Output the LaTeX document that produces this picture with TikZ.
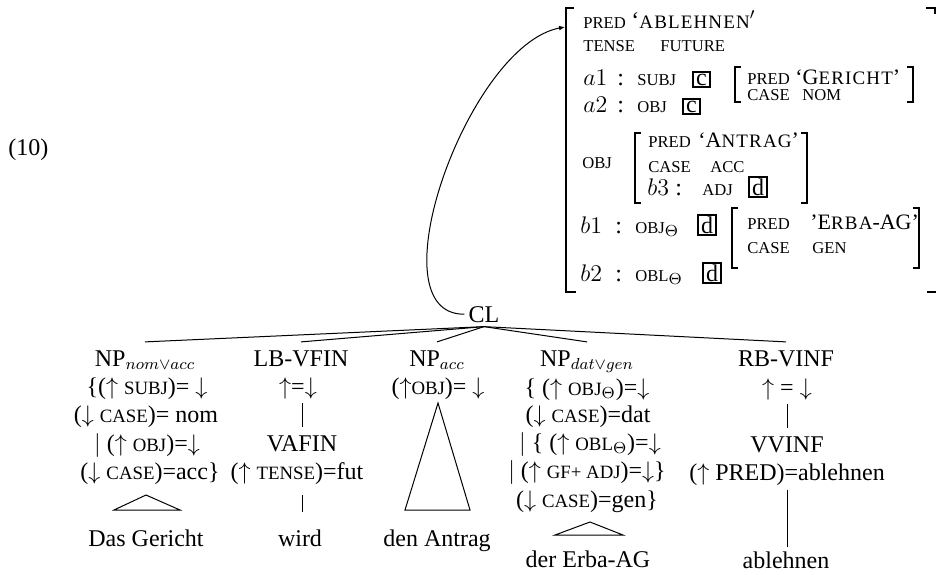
\documentclass[tikz,border=0pt]{standalone}
\usepackage[no-math]{fontspec}
\setmainfont{Liberation Serif}
\newfontfamily\scqfont[LetterSpace=6]{Liberation Serif}
\usetikzlibrary{arrows.meta}
\newcommand\SCa[1]{{\fontsize{8.3pt}{10pt}\selectfont #1}}
\newcommand\SCt[1]{{\fontsize{9.4pt}{11pt}\selectfont #1}}
\newcommand\SCq[1]{{\scqfont\fontsize{9.5pt}{11pt}\selectfont #1}}
\newcommand\IC[1]{{\fontsize{11pt}{13pt}\selectfont #1}}
\newcommand\uarr{\ensuremath{\uparrow}}
\newcommand\darr{\ensuremath{\downarrow}}
\begin{document}
\begin{tikzpicture}[x=0.5pt,y=-0.5pt,
  every node/.style={font=\fontsize{12pt}{14pt}\selectfont},
  av/.style={anchor=base west, inner sep=0pt},
  tr/.style={anchor=base, inner sep=2pt},
  cat/.style={anchor=base, inner xsep=0pt, inner ysep=4pt},
  bx/.style={anchor=base west, draw, line width=0.9pt, inner xsep=1.6pt, inner ysep=0.8pt},
  brk/.style={line width=0.9pt},
  ln/.style={line width=0.5pt}]
\useasboundingbox (0,0) rectangle (936,574);

% example number
\node[av] (ex) at (8,155) {(10)};

% ---------- AVM ----------
\coordinate (avm) at (565,27);
\draw[brk] (574,8) -- (566,8) -- (566,292) -- (576,292);
\draw[brk] (926,8) -- (935,8) -- (935,14);
\draw[brk] (927,292) -- (936,292);

\node[av] (p1) at (583,28) {\SCa{PRED}};
\node[av] (v1) at (631,28) {‘\SCq{ABLEHNEN}$'$};
\node[av] (p2) at (583,51) {\SCa{TENSE}};
\node[av] (v2) at (660,51) {\SCa{FUTURE}};

\node[av] (a1) at (583,85) {$a1$};
\node[av] (a1c) at (617,85) {:};
\node[av] (a1f) at (637,85) {\SCa{SUBJ}};
\node[bx] (a1b) at (692,85) {c};

\draw[brk] (741,67) -- (735,67) -- (735,102) -- (741,102);
\draw[brk] (907,67) -- (913,67) -- (913,102) -- (907,102);
\node[av] (g1) at (747,84) {\SCa{PRED}};
\node[av] (g1v) at (795,84) {\IC{‘G}\SCq{ERICHT}\IC{’}};
\node[av] (g2) at (747,100) {\SCa{CASE}};
\node[av] (g2v) at (802,100) {\SCa{NOM}};

\node[av] (a2) at (583,112) {$a2$};
\node[av] (a2c) at (617,112) {:};
\node[av] (a2f) at (637,112) {\SCa{OBJ}};
\node[bx] (a2b) at (682,112) {c};

\node[av] (obj) at (582,168) {\SCa{OBJ}};
\draw[brk] (641,133) -- (635,133) -- (635,203) -- (641,203);
\draw[brk] (801,133) -- (807,133) -- (807,203) -- (801,203);
\node[av] (t1) at (648,147) {\SCa{PRED}};
\node[av] (t1v) at (698,147) {\IC{‘A}\SCq{NTRAG}\IC{’}};
\node[av] (t2) at (648,172) {\SCa{CASE}};
\node[av] (t2v) at (710,172) {\SCa{ACC}};
\node[av] (b3) at (647,195) {$b3$};
\node[av] (b3c) at (675,195) {:};
\node[av] (b3f) at (702,195) {\SCa{ADJ}};
\node[bx] (b3b) at (748,195) {d};

\node[av] (b1) at (580,233) {$b1$};
\node[av] (b1c) at (615,233) {:};
\node[av] (b1f) at (635,233) {\SCa{OBJ}$_\Theta$};
\node[bx] (b1b) at (697,233) {d};

\draw[brk] (738,208) -- (732,208) -- (732,268) -- (738,268);
\draw[brk] (913,208) -- (919,208) -- (919,268) -- (913,268);
\node[av] (e1) at (747,229) {\SCa{PRED}};
\node[av] (e1v) at (810,229) {\IC{’E}\SCq{RBA}\IC{-AG’}};
\node[av] (e2) at (747,253) {\SCa{CASE}};
\node[av] (e2v) at (812,253) {\SCa{GEN}};

\node[av] (b2) at (580,281) {$b2$};
\node[av] (b2c) at (615,281) {:};
\node[av] (b2f) at (635,281) {\SCa{OBL}$_\Theta$};
\node[bx] (b2b) at (702,281) {d};

% ---------- tree ----------
\node[tr] (cl) at (484,322) {CL};
\draw[ln,-{Latex[length=3pt,width=2.4pt]}] (cl.west) .. controls (372,315) and (468,45) .. (avm);

\node[cat] (np1) at (145,366) {NP$_{nom\vee acc}$};
\node[cat] (lb) at (301,366) {LB-VFIN};
\node[cat] (np2) at (437,366) {NP$_{acc}$};
\node[cat] (np3) at (587,366) {NP$_{dat\vee gen}$};
\node[cat] (rb) at (786,366) {RB-VINF};
\foreach \n in {np1,lb,np2,np3,rb} \draw[ln] (cl.south) -- (\n.north);

% column 1
\node[tr] (c1a) at (147,394) {\{(\uarr\ \SCt{SUBJ})=\ \darr};
\node[tr] (c1b) at (146,422) {(\darr\ \SCt{CASE})= nom};
\node[tr] (c1c) at (147,451) {$|$ (\uarr\ \SCt{OBJ})=\darr};
\node[tr] (c1d) at (150,479) {(\darr\ \SCt{CASE})=acc\}};
\coordinate (t1a) at (146,495);
\coordinate (t1l) at (114,510);
\coordinate (t1r) at (180,510);
\draw[ln] (t1a) -- (t1l) -- (t1r) -- cycle;
\node[tr] (w1) at (146,546) {Das Gericht};

% column 2
\node[tr] (c2a) at (298,394) {\uarr=\darr};
\node[cat] (vafin) at (302,451) {VAFIN};
\draw[ln] (c2a.south -| vafin) -- (vafin.north);
\node[tr] (c2b) at (297,479) {(\uarr\ \SCt{TENSE})=fut};
\node[tr] (w2) at (300,546) {wird};
\draw[ln,shorten <=3pt,shorten >=6.3pt] (c2b.south -| vafin) -- (w2.north -| vafin);

% column 3
\node[tr] (c3a) at (438,394) {(\uarr\SCt{OBJ})= \darr};
\coordinate (t3a) at (438,403);
\coordinate (t3l) at (405,510);
\coordinate (t3r) at (470,510);
\draw[ln] (t3a) -- (t3l) -- (t3r) -- cycle;
\node[tr] (w3) at (437,546) {den Antrag};

% column 4
\node[tr] (c4a) at (587,395) {\{ (\uarr\ \SCt{OBJ}$_\Theta$)=\darr};
\node[tr] (c4b) at (588,422) {(\darr\ \SCt{CASE})=dat};
\node[tr] (c4c) at (590,450) {$|$ \{ (\uarr\ \SCt{OBL}$_\Theta$)=\darr};
\node[tr] (c4d) at (587,478) {$|$ (\uarr\ \SCt{GF+ ADJ})=\darr\}};
\node[tr] (c4e) at (587,507) {(\darr\ \SCt{CASE})=gen\}};
\coordinate (t4a) at (590,522);
\coordinate (t4l) at (555,535);
\coordinate (t4r) at (623,535);
\draw[ln] (t4a) -- (t4l) -- (t4r) -- cycle;
\node[tr] (w4) at (588,567) {der Erba-AG};

% column 5
\node[tr] (c5a) at (787,395) {\uarr\ = \darr};
\node[cat] (vvinf) at (787,452) {VVINF};
\draw[ln] (c5a.south -| vvinf) -- (vvinf.north);
\node[tr] (c5b) at (787,480) {(\uarr\ PRED)=ablehnen};
\node[tr] (w5) at (786,568) {ablehnen};
\draw[ln] (c5b.south -| vvinf) -- (w5.north -| vvinf);
\end{tikzpicture}
\end{document}
